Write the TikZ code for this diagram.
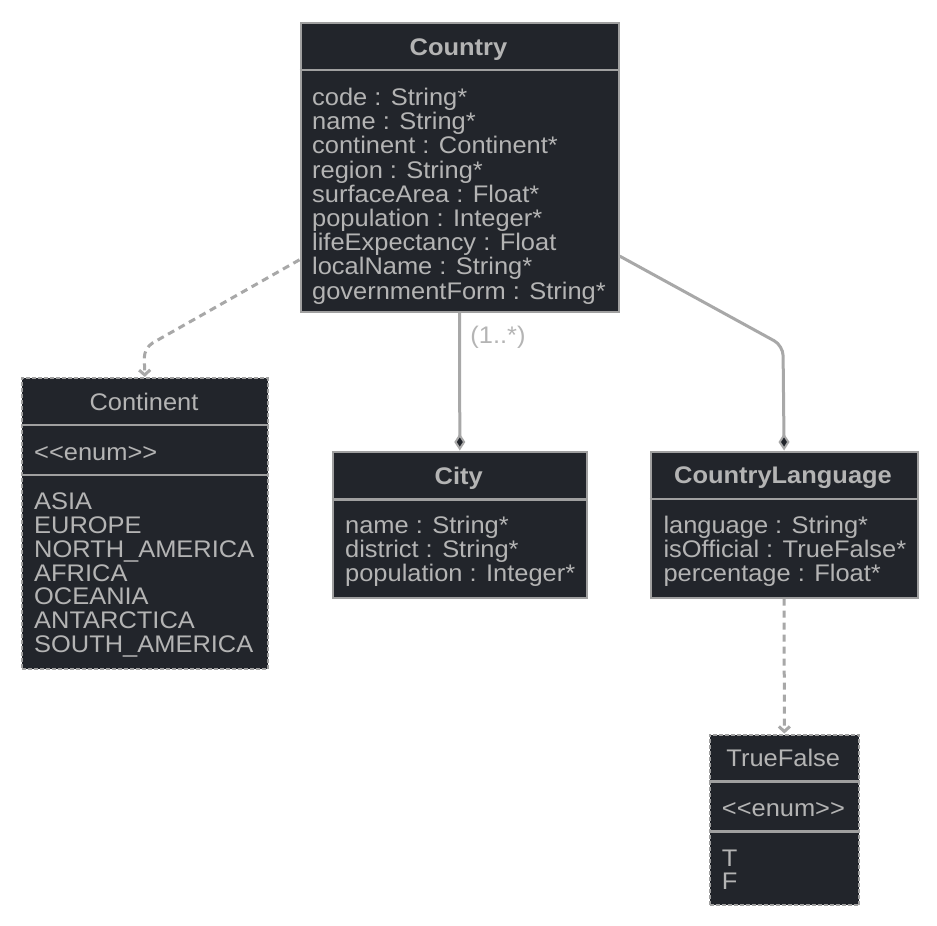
\documentclass[tikz,border=0pt]{standalone}
\usepackage{fontspec}
\setmainfont{Liberation Sans}[FakeStretch=1.06, Ligatures=TeXOff]
\usetikzlibrary{arrows.meta}
\definecolor{boxfill}{HTML}{22252B}
\definecolor{boxline}{HTML}{A0A0A0}
\definecolor{txt}{HTML}{B4B4B4}
\definecolor{edge}{HTML}{A8A8A8}
\begin{document}
\begin{tikzpicture}[x=1pt,y=-1pt,
  box/.style={draw=boxline, fill=boxfill, line width=2.2pt, inner sep=0pt, anchor=north west},
  enumbox/.style={box, dash pattern=on 4pt off 2pt},
  sepline/.style={draw=boxline, line width=2.2pt},
  attr/.style={text=txt, inner sep=0pt, anchor=base west, font=\fontsize{24}{24}\selectfont},
  ttl/.style={text=txt, inner sep=0pt, anchor=base, font=\fontsize{24}{24}\selectfont\bfseries},
  ttln/.style={ttl, font=\fontsize{24}{24}\selectfont},
  conn/.style={draw=edge, line width=3pt, rounded corners=10pt},
  dep/.style={conn, dash pattern=on 7pt off 5pt, -{Straight Barb[length=5pt,width=11pt]}},
  comp/.style={conn, -{Diamond[length=17pt,width=11pt,fill=boxfill,line width=2pt]}}
]
\fill[white] (0,0) rectangle (937,926);
\useasboundingbox (0,0) rectangle (937,926);

% ---------- Country ----------
\node[box, minimum width=318pt, minimum height=289.5pt] (country) at (299.5,21.5) {};
\draw[sepline] ([yshift=-48.5pt]country.north west) -- ([yshift=-48.5pt]country.north east);
\node[ttl] (countryT) at (458.5,55) {Country};
\foreach \t [count=\i from 0] in {code : String*, name : String*, continent : Continent*, region : String*, surfaceArea : Float*, population : Integer*, lifeExpectancy : Float, localName : String*, governmentForm : String*}
  \node[attr] (countryA\i) at (312,105.5+24.2*\i) {\t};

% ---------- Continent ----------
\node[enumbox, minimum width=245.5pt, minimum height=291pt] (continent) at (21,377) {};
\draw[sepline] ([yshift=-48pt]continent.north west) -- ([yshift=-48pt]continent.north east);
\draw[sepline] ([yshift=-98pt]continent.north west) -- ([yshift=-98pt]continent.north east);
\node[ttln] (continentT) at (144,410) {Continent};
\node[attr] (continentS) at (34,460) {<<enum>>};
\foreach \t [count=\i from 0] in {ASIA, EUROPE, NORTH\_AMERICA, AFRICA, OCEANIA, ANTARCTICA, SOUTH\_AMERICA}
  \node[attr] (continentV\i) at (34,509.3+23.9*\i) {\t};

% ---------- City ----------
\node[box, minimum width=254pt, minimum height=146pt] (city) at (331.7,450.5) {};
\draw[sepline] ([yshift=-49pt]city.north west) -- ([yshift=-49pt]city.north east);
\node[ttl] (cityT) at (458.7,484) {City};
\foreach \t [count=\i from 0] in {name : String*, district : String*, population : Integer*}
  \node[attr] (cityA\i) at (345,533.3+24.2*\i) {\t};

% ---------- CountryLanguage ----------
\node[box, minimum width=267pt, minimum height=146pt] (lang) at (649.5,450.5) {};
\draw[sepline] ([yshift=-48.5pt]lang.north west) -- ([yshift=-48.5pt]lang.north east);
\node[ttl] (langT) at (783,483.5) {CountryLanguage};
\foreach \t [count=\i from 0] in {language : String*, isOfficial : TrueFalse*, percentage : Float*}
  \node[attr] (langA\i) at (663.3,533.3+24.2*\i) {\t};

% ---------- TrueFalse ----------
\node[enumbox, minimum width=149.5pt, minimum height=170.5pt] (tf) at (708.5,733.5) {};
\draw[sepline] ([yshift=-48pt]tf.north west) -- ([yshift=-48pt]tf.north east);
\draw[sepline] ([yshift=-98pt]tf.north west) -- ([yshift=-98pt]tf.north east);
\node[ttln] (tfT) at (783.25,766.7) {TrueFalse};
\node[attr] (tfS) at (721.7,816) {<<enum>>};
\node[attr] (tfV0) at (721.7,866) {T};
\node[attr] (tfV1) at (721.7,889.5) {F};

% ---------- connectors ----------
\coordinate (bendA) at (144,347.8);
\coordinate (bendB) at (783,345.6);
\draw[dep] (country.210) -- (bendA) -- (continent.north);
\draw[comp] (country.south) -- (city.north);
\node[text=txt, inner sep=0pt, font=\fontsize{24}{24}\selectfont] (mult) at (498,337) {(1..*)};
\draw[comp] (country.331) -- (bendB) -- (lang.north);
\draw[dep] (lang.south) -- (tf.north);
\end{tikzpicture}
\end{document}
